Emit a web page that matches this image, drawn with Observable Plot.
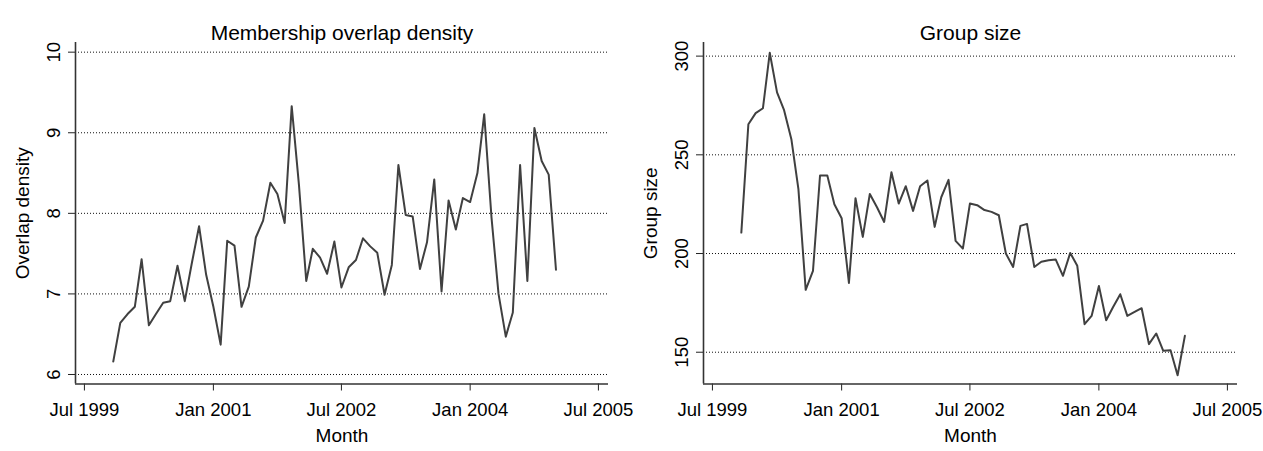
<!DOCTYPE html>
<html><head><meta charset="utf-8">
<script src="https://cdn.jsdelivr.net/npm/d3@7"></script>
<script src="https://cdn.jsdelivr.net/npm/@observablehq/plot@0.6"></script>
<style>
body{margin:0;background:#fff}
#wrap{position:relative;width:1263px;height:451px;overflow:hidden;background:#fff}
#wrap svg{position:absolute;top:0}
</style>
</head><body><div id="wrap"></div>
<script>
const months = [
  "1999-11","1999-12",
  "2000-01","2000-02","2000-03","2000-04","2000-05","2000-06","2000-07","2000-08","2000-09","2000-10","2000-11","2000-12",
  "2001-01","2001-02","2001-03","2001-04","2001-05","2001-06","2001-07","2001-08","2001-09","2001-10","2001-11","2001-12",
  "2002-01","2002-02","2002-03","2002-04","2002-05","2002-06","2002-07","2002-08","2002-09","2002-10","2002-11","2002-12",
  "2003-01","2003-02","2003-03","2003-04","2003-05","2003-06","2003-07","2003-08","2003-09","2003-10","2003-11","2003-12",
  "2004-01","2004-02","2004-03","2004-04","2004-05","2004-06","2004-07","2004-08","2004-09","2004-10","2004-11","2004-12",
  "2005-01"
];
const overlapDensity = [
  6.16, 6.64,
  6.75, 6.84, 7.43, 6.61, 6.75, 6.89, 6.91, 7.35, 6.91, 7.38, 7.84, 7.24,
  6.84, 6.37, 7.66, 7.60, 6.84, 7.09, 7.70, 7.91, 8.38, 8.24, 7.88, 9.33,
  8.35, 7.16, 7.56, 7.45, 7.25, 7.65, 7.08, 7.33, 7.42, 7.69, 7.59, 7.51,
  6.99, 7.36, 8.60, 7.98, 7.96, 7.31, 7.64, 8.42, 7.03, 8.16, 7.80, 8.19,
  8.14, 8.50, 9.23, 7.95, 7.00, 6.47, 6.77, 8.60, 7.16, 9.06, 8.65, 8.48,
  7.30
];
const groupSize = [
  210.6, 265.5,
  271.1, 273.6, 301.7, 281.6, 272.6, 257.9, 232.6, 181.6, 191.2, 239.5, 239.5, 225.0,
  217.9, 185.1, 228.0, 208.4, 230.2, 223.3, 216.0, 241.2, 225.3, 234.1, 221.6, 234.1,
  237.0, 213.5, 228.5, 237.3, 206.4, 202.5, 225.3, 224.5, 222.0, 221.1, 219.4, 200.0,
  193.2, 214.0, 215.0, 193.2, 195.8, 196.6, 197.0, 188.7, 200.3, 193.8, 164.2, 168.4,
  183.6, 166.2, 172.8, 179.4, 168.4, 170.4, 172.3, 154.1, 159.5, 150.7, 151.0, 138.3,
  158.3
];
const xTickMonths = ["1999-07","2001-01","2002-07","2004-01","2005-07"];
const xTickLabels = ["Jul 1999","Jan 2001","Jul 2002","Jan 2004","Jul 2005"];
const overlapTicks = [6, 7, 8, 9, 10];
const groupTicks = [150, 200, 250, 300];

const parse = d3.utcParse("%Y-%m");
const xDomain = [new Date(Date.UTC(1999, 4, 24)), new Date(Date.UTC(2005, 7, 13))];
const FONT = "'Liberation Sans', Arial, Helvetica, sans-serif";

function panel({values, yTicks, yDomain, title, yLabel, left, width, marginRight}) {
  const data = months.map((m, i) => ({date: parse(m), value: values[i]}));
  const tickDates = xTickMonths.map(parse);
  const fmt = new Map(tickDates.map((d, i) => [+d, xTickLabels[i]]));
  const svg = Plot.plot({
    width, height: 451,
    marginLeft: 75, marginRight, marginTop: 42, marginBottom: 67.5,
    style: {fontFamily: FONT, fontSize: "18.5px", color: "#222", background: "transparent", overflow: "visible"},
    x: {type: "utc", domain: xDomain, ticks: tickDates, tickFormat: d => fmt.get(+d), tickSize: 7, tickPadding: 12, label: null},
    y: {domain: yDomain, ticks: yTicks, tickSize: 7, tickFormat: () => "", label: null},
    marks: [
      Plot.ruleY(yTicks, {stroke: "#111", strokeDasharray: "1,2", strokeWidth: 1}),
      Plot.line(data, {x: "date", y: "value", stroke: "#404040", strokeWidth: 2}),
      Plot.ruleY([yDomain[0]], {stroke: "#333", strokeWidth: 1.6}),
      Plot.ruleX([xDomain[0]], {stroke: "#333", strokeWidth: 1.6}),
      Plot.text(yTicks, {y: d => d, text: d => String(d), frameAnchor: "left", textAnchor: "middle", dx: -21.5, rotate: -90, fontSize: 18.5, fill: "#000"}),
      Plot.text([yLabel], {text: d => d, frameAnchor: "left", textAnchor: "middle", dx: -53, rotate: -90, fontSize: 19, fill: "#000"}),
      Plot.text(["Month"], {text: d => d, frameAnchor: "bottom", dy: 57.5, fontSize: 19, fill: "#000"}),
      Plot.text([title], {text: d => d, frameAnchor: "top", dy: -17, fontSize: 21, fill: "#000"})
    ]
  });
  svg.style.left = left + "px";
  svg.querySelectorAll("g[aria-label^='x-axis'] text").forEach(t => {
    t.setAttribute("fill", "#000");
    t.style.fontSize = "18.5px";
    t.style.fontFamily = FONT;
  });
  document.getElementById("wrap").appendChild(svg);
}

panel({values: overlapDensity, yTicks: overlapTicks, yDomain: [5.882, 10.12],
  title: "Membership overlap density", yLabel: "Overlap density", left: 0, width: 631, marginRight: 23});
panel({values: groupSize, yTicks: groupTicks, yDomain: [133.9, 306.9],
  title: "Group size", yLabel: "Group size", left: 628, width: 635, marginRight: 26});
</script>
</body></html>
